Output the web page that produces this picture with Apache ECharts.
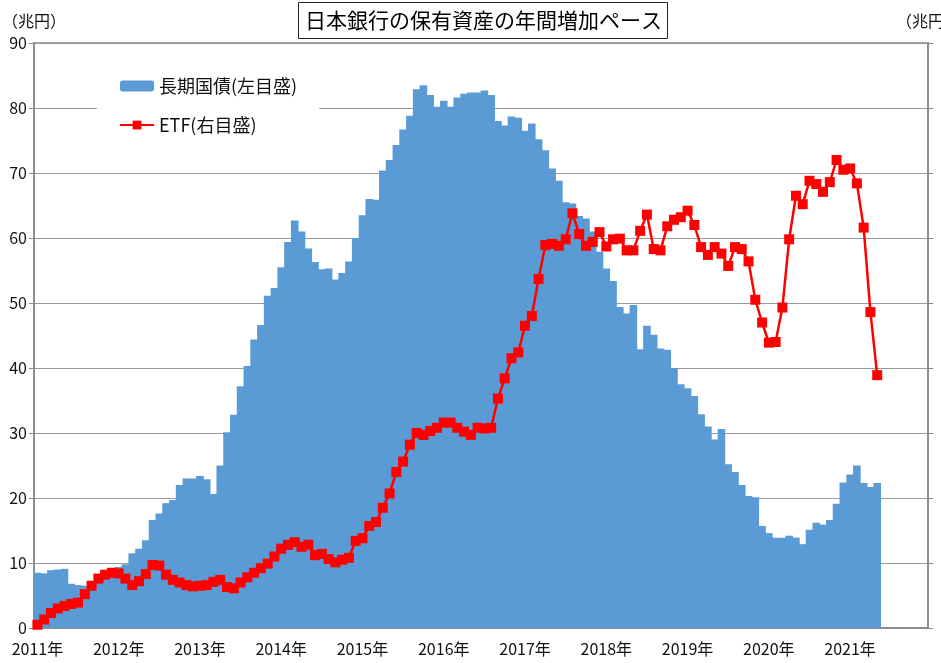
<!DOCTYPE html>
<html>
<head>
<meta charset="utf-8">
<script src="https://cdn.jsdelivr.net/npm/echarts@6/dist/echarts.min.js"></script>
<style>
  html, body { margin: 0; padding: 0; background: #fff; }
  #chart { width: 941px; height: 663px; }
</style>
</head>
<body>
<div id="chart"></div>
<script>
// months Jan 2011 .. Dec 2021
const years = [2011, 2012, 2013, 2014, 2015, 2016, 2017, 2018, 2019, 2020, 2021];
const months = [];
years.forEach(y => { for (let m = 1; m <= 12; m++) months.push(y + '/' + m); });

// 長期国債 年間増加額 (兆円, 左目盛) Jan 2011 - May 2021
const jgb = [
  8.5, 8.4, 8.9, 9.0, 9.1, 6.8, 6.6, 6.5, 6.9, 7.4,
  8.2, 8.9, 9.4, 9.8, 11.5, 12.2, 13.5, 16.6, 17.6, 19.2,
  19.7, 22.0, 23.0, 23.0, 23.4, 22.9, 20.6, 25.0, 30.1, 32.8,
  37.2, 40.3, 44.4, 46.6, 51.1, 52.3, 55.5, 59.4, 62.7, 61.0,
  58.4, 56.3, 55.2, 55.3, 53.6, 54.6, 56.4, 60.0, 63.5, 66.0,
  65.9, 70.4, 72.0, 74.3, 76.7, 78.8, 82.9, 83.5, 82.0, 80.2,
  81.1, 80.2, 81.6, 82.2, 82.4, 82.4, 82.7, 82.0, 78.0, 77.3,
  78.7, 78.5, 76.5, 77.6, 75.2, 73.5, 70.7, 68.8, 65.5, 65.3,
  63.4, 63.0, 61.0, 57.9, 55.3, 53.4, 49.4, 48.4, 49.7, 42.9,
  46.5, 45.1, 43.0, 42.8, 40.0, 37.5, 36.9, 35.7, 32.9, 31.0,
  29.0, 30.6, 25.2, 24.0, 22.0, 20.3, 20.1, 15.7, 14.6, 13.9,
  13.9, 14.2, 13.9, 12.9, 15.1, 16.2, 15.9, 16.6, 19.1, 22.4,
  23.6, 25.0, 22.3, 21.7, 22.3
];

// ETF 年間増加額 (兆円, 右目盛)
const etf = [
  0.05, 0.13, 0.23, 0.30, 0.34, 0.37, 0.39, 0.52, 0.65, 0.76,
  0.82, 0.85, 0.84, 0.76, 0.66, 0.72, 0.83, 0.97, 0.96, 0.82,
  0.74, 0.70, 0.66, 0.64, 0.65, 0.66, 0.71, 0.74, 0.63, 0.61,
  0.70, 0.78, 0.85, 0.92, 0.99, 1.10, 1.22, 1.28, 1.32, 1.25,
  1.28, 1.12, 1.14, 1.06, 1.01, 1.05, 1.08, 1.34, 1.38, 1.57,
  1.63, 1.85, 2.07, 2.40, 2.56, 2.82, 3.00, 2.97, 3.03, 3.08,
  3.16, 3.16, 3.08, 3.02, 2.97, 3.08, 3.07, 3.08, 3.53, 3.84,
  4.15, 4.24, 4.65, 4.80, 5.37, 5.89, 5.91, 5.88, 5.98, 6.38,
  6.06, 5.88, 5.94, 6.09, 5.87, 5.98, 5.99, 5.81, 5.81, 6.11,
  6.36, 5.83, 5.81, 6.18, 6.28, 6.32, 6.42, 6.20, 5.86, 5.74,
  5.86, 5.76, 5.57, 5.86, 5.83, 5.64, 5.05, 4.70, 4.39, 4.40,
  4.93, 5.98, 6.65, 6.52, 6.88, 6.83, 6.71, 6.86, 7.20, 7.05,
  7.07, 6.84, 6.16, 4.86, 3.89
];

const font = 'Noto Sans CJK JP';
const chart = echarts.init(document.getElementById('chart'));

chart.setOption({
  animation: false,
  textStyle: { fontFamily: font },
  title: {
    text: '日本銀行の保有資産の年間増加ペース',
    left: 298,
    top: 2,
    padding: [8, 6, 8, 7],
    borderColor: '#222',
    borderWidth: 1,
    backgroundColor: '#fff',
    textStyle: { fontSize: 21, fontWeight: 'normal', color: '#000', fontFamily: font },
    z: 10
  },
  legend: {
    orient: 'vertical',
    left: 97,
    top: 67,
    padding: [10, 22, 10, 22],
    itemGap: 21,
    itemWidth: 34,
    itemHeight: 11,
    backgroundColor: '#fff',
    textStyle: { fontSize: 18, color: '#111', fontFamily: font },
    data: ['長期国債(左目盛)', 'ETF(右目盛)']
  },
  grid: {
    left: 34, right: 13, top: 43, bottom: 35,
    outerBoundsMode: 'none',
    show: true, borderColor: '#888', borderWidth: 1.5
  },
  xAxis: {
    type: 'category',
    data: months,
    boundaryGap: true,
    axisLine: { lineStyle: { color: '#888', width: 1.5 } },
    axisTick: { interval: 0, length: 5, lineStyle: { color: '#aaa' } },
    axisLabel: {
      interval: (i) => i % 12 === 0,
      formatter: (v) => v.split('/')[0] + '年',
      fontSize: 16, color: '#111', margin: 13
    }
  },
  yAxis: [
    {
      type: 'value', min: 0, max: 90, interval: 10,
      name: '（兆円）', nameGap: 14,
      nameTextStyle: { fontSize: 16, color: '#111' },
      axisLine: { show: true, lineStyle: { color: '#888', width: 1.5 } },
      axisTick: { show: true, length: 5, lineStyle: { color: '#888' } },
      axisLabel: { fontSize: 16, color: '#111', margin: 7 },
      splitLine: { lineStyle: { color: '#999', width: 1.2 } }
    },
    {
      type: 'value', min: 0, max: 9, interval: 1, position: 'right',
      name: '（兆円）', nameGap: 14,
      nameTextStyle: { fontSize: 16, color: '#111' },
      axisLine: { show: true, lineStyle: { color: '#888', width: 1.5 } },
      axisTick: { show: true, length: 5, lineStyle: { color: '#888' } },
      axisLabel: { show: false },
      splitLine: { show: false }
    }
  ],
  series: [
    {
      name: '長期国債(左目盛)',
      type: 'bar',
      data: jgb,
      barWidth: 7.6,
      itemStyle: { color: '#5B9BD5' }
    },
    {
      name: 'ETF(右目盛)',
      type: 'line',
      yAxisIndex: 1,
      data: etf,
      symbol: 'rect',
      symbolSize: 10,
      showAllSymbol: true,
      lineStyle: { color: '#FF0000', width: 2.5 },
      itemStyle: { color: '#FF0000' },
      z: 3
    }
  ]
});
</script>
</body>
</html>
